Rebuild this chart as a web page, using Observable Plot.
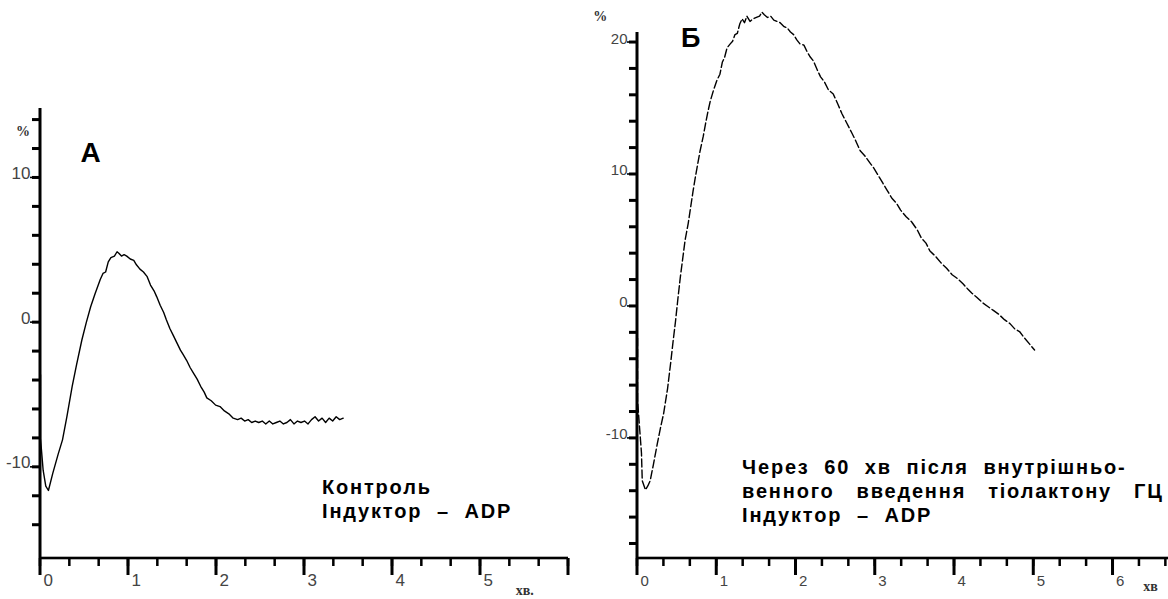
<!DOCTYPE html>
<html>
<head>
<meta charset="utf-8">
<script src="https://cdn.jsdelivr.net/npm/d3@7"></script>
<script src="https://cdn.jsdelivr.net/npm/@observablehq/plot@0.6"></script>
<style>
  html, body { margin: 0; padding: 0; background: #fff; overflow: hidden; }
  #wrap { position: relative; width: 1168px; height: 599px; overflow: hidden; background: #fff; }
  #panelA { position: absolute; left: 0; top: 0; width: 580px; height: 599px; }
  #panelB { position: absolute; left: 590px; top: 0; width: 578px; height: 599px; }
  svg text { white-space: pre; }
  g[font-size="20"] text, g[font-size="20px"] text { letter-spacing: 1.8px; }
</style>
</head>
<body>
<div id="wrap"><div id="panelA"></div><div id="panelB"></div></div>
<script>
// ---------- Panel А (control) ----------
const timeA = [0.00,0.00,0.03,0.06,0.09,0.14,0.20,0.25,0.30,0.36,0.41,0.47,0.52,0.57,0.62,0.68,0.71,0.74,0.77,0.80,0.84,0.87,0.89,0.92,0.95,0.98,1.02,1.06,1.09,1.13,1.17,1.21,1.25,1.29,1.32,1.36,1.40,1.43,1.47,1.51,1.55,1.59,1.62,1.66,1.70,1.74,1.78,1.82,1.86,1.89,1.94,1.99,2.04,2.09,2.14,2.19,2.24,2.28,2.32,2.36,2.40,2.44,2.48,2.52,2.56,2.60,2.64,2.68,2.72,2.76,2.80,2.84,2.88,2.92,2.96,3.00,3.04,3.08,3.12,3.16,3.20,3.24,3.28,3.32,3.36,3.40,3.44];
const valueA = [-3.6,-8.0,-10.2,-11.3,-11.6,-10.4,-9.1,-8.1,-6.5,-4.4,-2.9,-1.2,0.0,1.1,2.0,3.0,3.4,3.5,4.2,4.5,4.6,4.9,4.8,4.6,4.7,4.6,4.4,4.3,4.0,3.7,3.5,3.2,2.6,2.2,1.8,1.2,0.7,0.2,-0.4,-0.9,-1.4,-1.9,-2.2,-2.6,-3.1,-3.5,-3.9,-4.4,-4.8,-5.2,-5.4,-5.7,-5.8,-6.1,-6.3,-6.6,-6.7,-6.6,-6.8,-6.7,-6.9,-6.8,-6.9,-6.8,-7.0,-6.8,-7.0,-6.9,-6.8,-7.0,-6.9,-6.7,-7.0,-6.8,-6.9,-6.8,-7.0,-6.7,-6.5,-6.8,-6.6,-6.9,-6.6,-6.8,-6.5,-6.7,-6.6];

// ---------- Panel Б (60 min after homocysteine thiolactone) ----------
const timeB = [0.00,0.00,0.05,0.06,0.10,0.13,0.16,0.20,0.25,0.29,0.33,0.38,0.42,0.45,0.48,0.51,0.54,0.57,0.60,0.64,0.67,0.70,0.73,0.76,0.79,0.83,0.86,0.89,0.92,0.96,1.00,1.04,1.07,1.10,1.13,1.17,1.20,1.23,1.26,1.29,1.32,1.35,1.38,1.42,1.46,1.50,1.54,1.57,1.60,1.64,1.68,1.72,1.76,1.80,1.85,1.89,1.93,1.97,2.01,2.05,2.10,2.14,2.18,2.22,2.27,2.31,2.36,2.41,2.47,2.53,2.58,2.64,2.70,2.75,2.81,2.87,2.93,2.98,3.04,3.10,3.15,3.21,3.27,3.32,3.39,3.46,3.53,3.58,3.64,3.69,3.76,3.83,3.90,3.97,4.04,4.11,4.17,4.22,4.28,4.35,4.42,4.49,4.56,4.63,4.70,4.76,4.82,4.87,4.94,5.01];
const valueB = [-2.4,-7.1,-11.1,-13.2,-13.9,-13.6,-13.2,-12.0,-10.4,-9.2,-8.1,-6.2,-4.2,-2.6,-1.1,0.6,2.2,3.6,5.0,6.3,7.5,8.7,9.8,10.8,11.8,12.9,13.9,14.8,15.6,16.4,17.1,17.6,18.5,18.9,19.6,19.9,20.1,20.6,20.7,21.4,21.8,21.5,22.0,21.6,21.8,21.9,22.0,22.3,22.1,21.9,22.0,21.7,21.6,21.5,21.2,21.1,20.8,20.6,20.2,19.9,19.8,19.3,18.9,18.6,17.9,17.4,17.0,16.4,16.1,15.3,14.6,13.9,13.2,12.6,11.8,11.4,10.9,10.5,9.9,9.3,8.8,8.2,7.8,7.3,6.8,6.4,5.8,5.2,4.8,4.2,3.8,3.3,2.9,2.4,2.1,1.7,1.3,1.0,0.7,0.3,0.0,-0.3,-0.6,-1.0,-1.3,-1.7,-1.9,-2.3,-2.8,-3.3];

// ---------- Axes / ticks ----------
const xMajorA = [0, 1, 2, 3, 4, 5, 6];
const xLabelsA = ["0", "1", "2", "3", "4", "5"];
const yMajorA = [10, 0, -10];
const yLabelsA = ["10", "0", "-10"];
const xMajorB = [0, 1, 2, 3, 4, 5, 6];
const xLabelsB = ["0", "1", "2", "3", "4", "5", "6"];
const yMajorB = [20, 10, 0, -10];
const yLabelsB = ["20", "10", "0", "-10"];

// ---------- Texts ----------
const unitY = "%";
const unitX_A = "хв.";
const unitX_B = "хв";
const letterA = "А";
const letterB = "Б";
const noteA = ["Контроль", "Індуктор  –  ADP"];
const noteB = ["Через  60  хв  після  внутрішньо-", "венного   введення   тіолактону   ГЦ", "Індуктор  –  ADP"];

const dataA = timeA.map((t, i) => ({t, v: valueA[i]}));
const dataB = timeB.map((t, i) => ({t, v: valueB[i]}));

const tickFont = "Liberation Sans, Arial, sans-serif";
const boldFont = "Liberation Sans, Arial, Helvetica, sans-serif";

function panel({data, xDomain, yDomain, width, margins, xMajor, xLabels, xMinorStep, xMinorMax, yMajor, yLabels, yMinor, dash, unitPos, unitX, unitXPos, letter, letterPos, letterSize, note, notePos, tickSizePx}) {
  const [ml, mr, mt, mb] = margins;
  const yBottom = yDomain[0];
  const pxY = (599 - mt - mb) / (yDomain[1] - yDomain[0]);
  const pxX = (width - ml - mr) / (xDomain[1] - xDomain[0]);
  const hx = (px) => px / pxX; // pixel length in x data units
  const hy = (px) => px / pxY; // pixel length in y data units
  const xMinor = d3.range(0, xMinorMax + 1e-6, xMinorStep);
  const ink = "#000";
  return Plot.plot({
    width,
    height: 599,
    marginLeft: ml,
    marginRight: mr,
    marginTop: mt,
    marginBottom: mb,
    x: {domain: xDomain, axis: null},
    y: {domain: yDomain, axis: null},
    style: {background: "white", overflow: "visible"},
    marks: [
      // x ticks (minor and major), filled bars hanging below the axis
      Plot.rect(xMinor, {x1: (d) => d - hx(1.25), x2: (d) => d + hx(1.25), y1: yBottom, y2: yBottom - hy(8), fill: ink}),
      Plot.rect(xMajor, {x1: (d) => d - hx(1.5), x2: (d) => d + hx(1.5), y1: yBottom, y2: yBottom - hy(17), fill: ink}),
      // y ticks, to the left of the axis
      Plot.rect(yMinor, {y1: (d) => d - hy(1.5), y2: (d) => d + hy(1.5), x1: 0, x2: -hx(8), fill: ink}),
      Plot.rect(yMajor, {y1: (d) => d - hy(0.8), y2: (d) => d + hy(0.8), x1: 0, x2: -hx(10), fill: ink}),
      // axis lines
      Plot.rect([yBottom], {x1: xDomain[0], x2: xDomain[1], y1: (d) => d - hy(1.3), y2: (d) => d + hy(1.3), fill: ink}),
      Plot.rect([0], {x1: (d) => d - hx(1.5), x2: (d) => d + hx(1.5), y1: yBottom, y2: yDomain[1], fill: ink}),
      // tick labels
      Plot.text(xLabels, {x: (d) => +d, frameAnchor: "bottom", dy: 27, dx: 3, textAnchor: "start", lineAnchor: "bottom", text: (d) => d, fontSize: tickSizePx, fontFamily: tickFont, fill: "#444"}),
      Plot.text(yLabels, {y: (d) => +d, frameAnchor: "left", dx: -10, dy: 1, textAnchor: "end", lineAnchor: "bottom", text: (d) => d, fontSize: tickSizePx, fontFamily: tickFont, fill: "#444"}),
      // curve
      Plot.line(data, {x: "t", y: "v", stroke: ink, strokeWidth: 1.4, strokeDasharray: dash}),
      // units, panel letter and annotation
      Plot.text([unitY], {x: unitPos[0], y: unitPos[1], text: (d) => d, fontSize: 14, fontWeight: "bold", fontFamily: "Liberation Serif, serif", fill: "#333"}),
      Plot.text([unitX], {x: unitXPos[0], y: unitXPos[1], text: (d) => d, fontSize: 14, fontWeight: "bold", fontFamily: "Liberation Serif, serif", fill: "#333", textAnchor: "start"}),
      Plot.text([letter], {x: letterPos[0], y: letterPos[1], text: (d) => d, fontSize: letterSize, fontWeight: "bold", fontFamily: boldFont, fill: "#000"}),
      Plot.text([note.join("\n")], {x: notePos[0], y: notePos[1], text: (d) => d, fontSize: 20, lineHeight: 1.2, fontWeight: "bold", fontFamily: boldFont, fill: "#000", textAnchor: "start", lineAnchor: "bottom"})
    ]
  });
}

const svgA = panel({
  data: dataA, xDomain: [0, 6], yDomain: [-16.3, 14.8], width: 580, margins: [40, 12, 108, 41],
  xMajor: xMajorA, xLabels: xLabelsA, xMinorStep: 1/3, xMinorMax: 6,
  yMajor: yMajorA, yLabels: yLabelsA, yMinor: d3.range(-14, 14.1, 2),
  dash: null, unitPos: [-0.2, 13.2], unitX: unitX_A, unitXPos: [5.4, -18.5],
  letter: letterA, letterPos: [0.57, 11.7], letterSize: 28,
  note: noteA, notePos: [3.2, -13.5], tickSizePx: 17
});
document.getElementById("panelA").appendChild(svgA);

const svgB = panel({
  data: dataB, xDomain: [0, 6.7], yDomain: [-19.1, 20.76], width: 578, margins: [47, 0, 32, 41],
  xMajor: xMajorB, xLabels: xLabelsB, xMinorStep: 1/3, xMinorMax: 6.67,
  yMajor: yMajorB, yLabels: yLabelsB, yMinor: d3.range(-18, 20.1, 2),
  dash: "8,3", unitPos: [-0.47, 22], unitX: unitX_B, unitXPos: [6.38, -21.2],
  letter: letterB, letterPos: [0.67, 20.3], letterSize: 27,
  note: noteB, notePos: [1.32, -16.3], tickSizePx: 15
});
document.getElementById("panelB").appendChild(svgB);
</script>
</body>
</html>
